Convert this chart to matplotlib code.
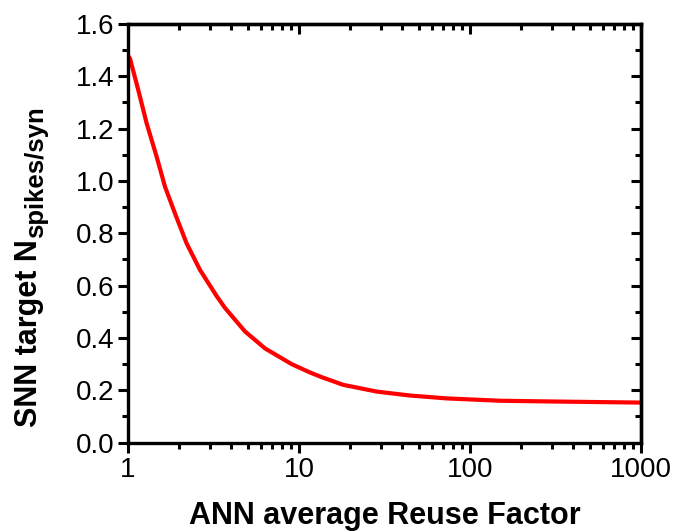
import matplotlib
matplotlib.use("Agg")
import matplotlib.pyplot as plt
from matplotlib.ticker import LogLocator, MultipleLocator, NullFormatter

plt.rcParams['font.family'] = ['Liberation Sans', 'DejaVu Sans']

reuse_factor = [1, 1.027, 1.149, 1.286, 1.472, 1.646, 1.883, 2.20, 2.637, 3.30, 3.69,
                4.83, 6.33, 9.06, 11.6, 13.6, 18.1, 28.5, 44.6, 73, 150, 320, 1000]
n_spikes = [1.48, 1.468, 1.347, 1.220, 1.092, 0.978, 0.876, 0.762, 0.660, 0.560, 0.515,
            0.425, 0.360, 0.300, 0.268, 0.250, 0.221, 0.195, 0.180, 0.169, 0.160, 0.157, 0.153]

x_ticks = [1, 10, 100, 1000]
x_ticklabels = ['1', '10', '100', '1000']
y_ticks = [0.0, 0.2, 0.4, 0.6, 0.8, 1.0, 1.2, 1.4, 1.6]
y_ticklabels = ['0.0', '0.2', '0.4', '0.6', '0.8', '1.0', '1.2', '1.4', '1.6']
y_label_main = 'SNN target N'
y_label_sub = 'spikes/syn'
x_label = 'ANN average Reuse Factor'

W, H = 675, 532
fig = plt.figure(figsize=(W / 100, H / 100), dpi=100)
ax = fig.add_axes([0.1896, 0.168, 0.7600, 0.787])

ax.plot(reuse_factor, n_spikes, color='#ff0000', lw=3.0, solid_capstyle='butt',
        solid_joinstyle='round')
ax.set_xscale('log')
ax.set_xlim(1, 1000)
ax.set_ylim(0, 1.6)

ax.set_xticks(x_ticks)
ax.set_xticklabels(x_ticklabels)
ax.xaxis.set_minor_locator(LogLocator(base=10, subs=range(2, 10)))
ax.xaxis.set_minor_formatter(NullFormatter())
ax.set_yticks(y_ticks)
ax.set_yticklabels(y_ticklabels)
ax.yaxis.set_minor_locator(MultipleLocator(0.1))

for s in ax.spines.values():
    s.set_linewidth(2.4)

ax.tick_params(which='major', direction='out', length=7, width=2.2, labelsize=20, pad=3, top=False, right=False)
ax.tick_params(which='minor', direction='out', length=4, width=2.2, top=False, right=False)

top = ax.secondary_xaxis('top')
top.set_xticks(x_ticks)
top.xaxis.set_minor_locator(LogLocator(base=10, subs=range(2, 10)))
top.tick_params(which='major', direction='in', length=7, width=2.2, labeltop=False)
top.tick_params(which='minor', direction='in', length=4, width=2.2, labeltop=False)
top.xaxis.set_minor_formatter(NullFormatter())
top.spines['top'].set_linewidth(2.4)

right = ax.secondary_yaxis('right')
right.set_yticks(y_ticks)
right.yaxis.set_minor_locator(MultipleLocator(0.1))
right.tick_params(which='major', direction='in', length=7, width=2.2, labelright=False)
right.tick_params(which='minor', direction='in', length=4, width=2.2, labelright=False)
right.spines['right'].set_linewidth(2.4)

ax.set_xlabel(x_label, fontsize=22, fontweight='bold', labelpad=13)

# y label: main text plus larger-than-default subscript
t_main = fig.text(37 / W, 1 - 427 / H, y_label_main, rotation=90, rotation_mode='anchor',
                  ha='left', va='baseline', fontsize=22, fontweight='bold')
renderer = fig.canvas.get_renderer()
bb = t_main.get_window_extent(renderer)
fig.text(43 / W, (bb.y1 + 1) / H, y_label_sub, rotation=90, rotation_mode='anchor',
         ha='left', va='baseline', fontsize=18.5, fontweight='bold')

fig.savefig('out.png', dpi=100)
